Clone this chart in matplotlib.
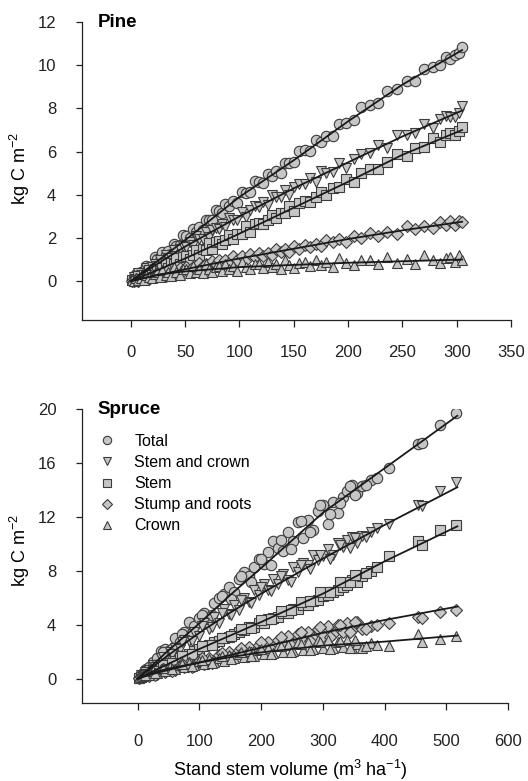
import matplotlib
matplotlib.use("Agg")
import matplotlib.pyplot as plt

plt.rcParams['font.family'] = ['Liberation Sans', 'DejaVu Sans']
plt.rcParams['mathtext.fontset'] = 'custom'
plt.rcParams['mathtext.rm'] = 'Liberation Sans'
plt.rcParams['mathtext.it'] = 'Liberation Sans:italic'
plt.rcParams['mathtext.bf'] = 'Liberation Sans:bold'

components = ["Total", "Stem and crown", "Stem", "Stump and roots", "Crown"]
markers = ["o", "v", "s", "D", "^"]

# --- Pine: stand stem volume (m3/ha) and carbon per component (kg C/m2)
pine_vol = [1, 3, 5, 7, 9, 12, 14, 17, 19, 22, 24, 27, 29, 32, 34, 37, 40, 42, 45, 48,
            51, 54, 57, 60, 63, 66, 69, 72, 75, 78, 81, 84, 87, 90, 94, 98, 102, 106, 110,
            114, 118, 122, 126, 130, 134, 138, 142, 146, 150, 155, 160, 165, 170, 175, 180,
            186, 192, 198, 205, 212, 220, 228, 236, 245, 254, 262, 270, 278, 285, 290, 294,
            298, 302, 305]
pine_total = [0.1, 0.05, 0.35, 0.25, 0.4, 0.3, 0.7, 0.66, 0.64, 1.1, 1.04, 0.93, 1.33, 1.2,
              1.38, 1.24, 1.71, 1.64, 1.66, 2.12, 2.09, 1.99, 2.42, 2.29, 2.51, 2.37, 2.84,
              2.81, 2.83, 3.29, 3.26, 3.16, 3.59, 3.46, 3.72, 3.62, 4.12, 4.1, 4.14, 4.63,
              4.61, 4.53, 4.98, 4.87, 5.11, 4.99, 5.48, 5.46, 5.5, 6.03, 6.06, 6.02, 6.52,
              6.45, 6.73, 6.7, 7.26, 7.33, 7.47, 8.06, 8.18, 8.23, 8.82, 8.88, 9.27, 9.25,
              9.83, 9.91, 10.02, 10.4, 10.3, 10.45, 10.55, 10.85]
pine_stem_crown = [0.02, 0.18, 0.05, 0.38, 0.3, 0.3, 0.6, 0.4, 0.66, 0.8, 0.72, 0.96, 0.78,
                   1.22, 1.09, 1.08, 1.43, 1.14, 1.49, 1.64, 1.58, 1.81, 1.65, 2.08, 1.96,
                   1.95, 2.28, 2.02, 2.35, 2.48, 2.42, 2.65, 2.49, 2.92, 2.83, 2.84, 3.2,
                   2.96, 3.31, 3.46, 3.42, 3.67, 3.53, 3.98, 3.88, 3.89, 4.24, 4.0, 4.35,
                   4.52, 4.49, 4.76, 4.58, 5.1, 5.02, 5.06, 5.46, 5.25, 5.67, 5.89, 5.93,
                   6.32, 6.16, 6.78, 6.79, 6.86, 7.29, 7.11, 7.51, 7.67, 7.61, 7.6, 7.8, 8.1]
pine_stem = [0.04, 0.02, 0.11, 0.22, 0.12, 0.3, 0.25, 0.5, 0.3, 0.56, 0.58, 0.47, 0.61, 0.82,
             0.59, 0.83, 0.79, 1.08, 0.8, 1.11, 1.15, 1.04, 1.21, 1.43, 1.23, 1.47, 1.44,
             1.76, 1.48, 1.79, 1.84, 1.73, 1.9, 2.12, 1.94, 2.2, 2.2, 2.54, 2.29, 2.64, 2.71,
             2.63, 2.82, 3.07, 2.9, 3.16, 3.16, 3.5, 3.25, 3.62, 3.72, 3.66, 3.88, 4.15, 4.0,
             4.31, 4.36, 4.75, 4.57, 5.0, 5.18, 5.2, 5.5, 5.87, 5.81, 6.15, 6.22, 6.64, 6.43,
             6.79, 6.85, 6.75, 6.94, 7.15]
pine_stump = [0.02, 0.0, 0.08, 0.02, 0.16, 0.1, 0.2, 0.12, 0.3, 0.2, 0.36, 0.22, 0.36, 0.25,
              0.52, 0.38, 0.51, 0.36, 0.62, 0.48, 0.66, 0.51, 0.66, 0.53, 0.83, 0.68, 0.81,
              0.67, 0.92, 0.78, 0.96, 0.81, 0.96, 0.83, 1.14, 1.0, 1.14, 1.0, 1.26, 1.13,
              1.31, 1.17, 1.32, 1.2, 1.51, 1.36, 1.5, 1.36, 1.62, 1.5, 1.69, 1.56, 1.72, 1.61,
              1.92, 1.79, 1.95, 1.83, 2.11, 2.0, 2.21, 2.09, 2.28, 2.19, 2.53, 2.41, 2.57,
              2.45, 2.73, 2.59, 2.77, 2.62, 2.77, 2.75]
pine_crown = [0.05, 0.0, 0.14, 0.06, 0.16, 0.06, 0.3, 0.2, 0.15, 0.33, 0.41, 0.21, 0.52, 0.29,
              0.43, 0.22, 0.64, 0.4, 0.3, 0.54, 0.57, 0.37, 0.68, 0.44, 0.58, 0.36, 0.78,
              0.54, 0.43, 0.66, 0.69, 0.49, 0.8, 0.56, 0.71, 0.49, 0.9, 0.66, 0.55, 0.78,
              0.81, 0.59, 0.9, 0.66, 0.8, 0.58, 0.98, 0.74, 0.63, 0.86, 0.89, 0.68, 0.99,
              0.75, 0.89, 0.67, 1.08, 0.85, 0.74, 0.97, 1.0, 0.79, 1.1, 0.86, 1.01, 0.79, 1.2,
              0.96, 0.85, 1.08, 1.11, 0.89, 1.2, 1.0]

# fitted curves
pine_fit_vol = [0, 25, 50, 100, 150, 200, 250, 305]
pine_fit = [
    [0, 0.95, 1.9, 3.9, 5.6, 7.4, 9.1, 10.7],
    [0, 0.82, 1.6, 3.0, 4.3, 5.5, 6.7, 7.9],
    [0, 0.52, 1.05, 2.2, 3.4, 4.6, 5.85, 7.0],
    [0, 0.28, 0.55, 1.05, 1.5, 1.95, 2.35, 2.75],
    [0, 0.3, 0.45, 0.65, 0.75, 0.85, 0.92, 1.0],
]

# --- Spruce
spruce_vol = [2, 5, 9, 14, 19, 25, 31, 38, 45, 52, 60, 68, 76, 84, 92, 100, 108, 116, 124,
              132, 140, 148, 156, 164, 172, 180, 188, 196, 204, 212, 220, 228, 236, 244,
              252, 260, 268, 276, 284, 292, 300, 308, 316, 324, 332, 340, 348, 356, 364,
              378, 388, 408, 455, 460, 490, 515,
              12, 28, 42, 56, 72, 88, 104, 120, 136, 152, 168, 184, 200, 216, 232, 248,
              264, 280, 296, 312, 328, 344, 352, 370]
spruce_total = [0.05, 0.3, 0.45, 0.75, 0.9, 1.25, 1.5, 2.05, 2.2, 2.1, 3.0, 2.7, 3.5, 4.2,
                3.9, 4.5, 4.9, 4.6, 5.6, 6.0, 6.3, 6.8, 6.4, 7.4, 7.9, 7.6, 8.3, 8.9, 8.5,
                9.4, 10.2, 9.7, 9.5, 10.9, 10.2, 11.6, 10.4, 11.8, 11.0, 12.4, 12.9, 11.5,
                13.1, 12.3, 13.5, 13.9, 14.4, 13.8, 14.3, 14.7, 14.9, 15.6, 17.4, 17.5,
                18.8, 19.7,
                0.6, 1.0, 1.95, 2.2, 3.3, 3.4, 4.7, 4.7, 6.1, 5.9, 7.6, 7.2, 8.9, 8.4,
                10.3, 9.6, 11.7, 10.9, 12.9, 12.2, 13.0, 14.3, 13.6, 14.4]
spruce_stem_crown = [0.05, 0.25, 0.3, 0.6, 0.62, 1.0, 1.0, 1.5, 1.5, 2.0, 2.3, 2.2, 2.9, 2.8,
                     3.5, 3.2, 4.1, 3.7, 4.6, 4.1, 5.2, 4.8, 5.5, 5.1, 6.0, 5.7, 6.6, 6.2,
                     7.0, 6.6, 7.4, 7.0, 7.8, 7.3, 8.3, 7.9, 8.6, 8.4, 9.2, 8.8, 9.1, 9.6,
                     9.2, 10.1, 9.8, 10.3, 10.5, 10.1, 10.6, 10.9, 11.2, 11.5, 12.9, 12.8,
                     13.9, 14.6,
                     0.5, 0.85, 1.6, 1.8, 2.7, 2.8, 3.9, 3.8, 4.9, 4.7, 5.8, 5.6, 6.8, 6.5,
                     7.6, 7.2, 8.4, 8.1, 9.2, 8.9, 9.9, 9.7, 10.4, 10.5]
spruce_stem = [0.03, 0.12, 0.18, 0.35, 0.38, 0.6, 0.65, 0.9, 0.95, 1.2, 1.3, 1.5, 1.7, 1.85,
               2.05, 2.2, 2.45, 2.5, 2.75, 2.8, 3.05, 3.1, 3.3, 3.5, 3.6, 3.8, 3.85, 4.1,
               4.15, 4.4, 4.5, 4.6, 4.85, 4.9, 5.15, 5.2, 5.45, 5.5, 5.75, 5.8, 6.1, 6.2,
               6.45, 6.55, 6.8, 6.95, 7.3, 7.2, 7.6, 8.0, 8.3, 9.1, 10.2, 9.9, 11.0, 11.4,
               0.3, 0.55, 1.0, 1.15, 1.7, 1.85, 2.4, 2.5, 3.05, 3.15, 3.7, 3.75, 4.35, 4.4,
               5.0, 5.1, 5.7, 5.75, 6.4, 6.45, 7.15, 7.2, 7.7, 7.85]
spruce_stump = [0.02, 0.12, 0.1, 0.3, 0.22, 0.45, 0.35, 0.6, 0.5, 0.8, 0.65, 0.95, 0.85,
                1.15, 0.95, 1.35, 1.1, 1.5, 1.3, 1.75, 1.5, 1.95, 1.7, 2.15, 1.85, 2.35,
                2.0, 2.5, 2.2, 2.75, 2.35, 2.9, 2.5, 3.15, 2.6, 3.3, 2.8, 3.5, 3.0, 3.7,
                3.2, 3.9, 3.3, 3.95, 3.5, 4.1, 3.6, 4.2, 3.7, 3.9, 4.0, 4.1, 4.6, 4.5,
                4.95, 5.1,
                0.25, 0.3, 0.7, 0.6, 1.1, 0.9, 1.5, 1.2, 1.9, 1.55, 2.3, 1.9, 2.7, 2.2,
                3.1, 2.5, 3.5, 2.8, 3.8, 3.1, 4.0, 3.5, 4.2, 3.7]
spruce_crown = [0.05, 0.15, 0.2, 0.35, 0.3, 0.55, 0.45, 0.7, 0.6, 0.85, 0.75, 1.0, 0.9,
                1.15, 1.0, 1.3, 1.1, 1.45, 1.25, 1.55, 1.35, 1.75, 1.5, 1.85, 1.6, 2.05,
                1.7, 2.15, 1.8, 2.3, 1.9, 2.45, 1.95, 2.5, 2.05, 2.7, 2.1, 2.75, 2.2, 2.85,
                2.25, 2.9, 2.3, 2.75, 2.35, 2.85, 2.3, 2.6, 2.25, 2.65, 2.5, 2.45, 3.3,
                2.75, 2.95, 3.15,
                0.3, 0.4, 0.8, 0.7, 1.1, 0.95, 1.4, 1.2, 1.7, 1.45, 1.95, 1.65, 2.2, 1.8,
                2.4, 1.95, 2.6, 2.1, 2.75, 2.2, 2.8, 2.3, 2.9, 2.4]

spruce_fit_vol = [0, 25, 50, 100, 150, 200, 300, 400, 518]
spruce_fit = [
    [0, 1.05, 2.1, 4.1, 6.2, 8.2, 12.3, 15.6, 19.5],
    [0, 0.9, 1.75, 3.4, 4.9, 6.3, 8.9, 11.4, 14.2],
    [0, 0.55, 1.1, 2.2, 3.2, 4.2, 6.3, 8.7, 11.3],
    [0, 0.35, 0.65, 1.2, 1.75, 2.3, 3.4, 4.35, 5.35],
    [0, 0.45, 0.75, 1.2, 1.6, 1.95, 2.45, 2.75, 3.2],
]

TICK_FS = 12
LABEL_FS = 13
LEG_FS = 11.5
FACE = "#c6c6c6"
EDGE = "#3c3c3c"
MS = {"o": 7.5, "v": 7.5, "s": 6.5, "D": 6.5, "^": 7.5}


def draw_panel(ax, vol, series, fit_vol, fits, name):
    for vals, mk, lab in zip(series, markers, components):
        ax.plot(vol, vals, ls="none", marker=mk, ms=MS[mk],
                mfc=FACE, mec=EDGE, mew=0.8, label=lab, zorder=2)
    for f in fits:
        ax.plot(fit_vol, f, color="#1a1a1a", lw=1.3, zorder=3)
    for s in ["top", "right"]:
        ax.spines[s].set_visible(False)
    for s in ["left", "bottom"]:
        ax.spines[s].set_linewidth(0.9)
        ax.spines[s].set_color("#222222")
    ax.tick_params(axis="both", labelsize=TICK_FS, colors="#222222", width=0.9)
    ax.tick_params(axis="y", length=4.5, pad=14)
    ax.tick_params(axis="x", length=5, pad=13)
    ax.set_ylabel("kg C m$^{-2}$", fontsize=LABEL_FS)
    ax.text(0.037, 1.0, name, transform=ax.transAxes, fontsize=13.5,
            fontweight="bold", va="center", ha="left")


fig = plt.figure(figsize=(5.28, 7.81), dpi=100)

ax1 = fig.add_axes([0.1553, 0.5903, 0.8125, 0.3815])
draw_panel(ax1, pine_vol, [pine_total, pine_stem_crown, pine_stem, pine_stump, pine_crown],
           pine_fit_vol, pine_fit, "Pine")
ax1.set_xlim(-45, 350)
ax1.set_ylim(-1.8, 12)
ax1.set_xticks(range(0, 351, 50))
ax1.set_yticks(range(0, 13, 2))
ax1.yaxis.set_label_coords(-0.116, 0.51)

ax2 = fig.add_axes([0.1553, 0.0999, 0.8068, 0.3764])
draw_panel(ax2, spruce_vol, [spruce_total, spruce_stem_crown, spruce_stem, spruce_stump, spruce_crown],
           spruce_fit_vol, spruce_fit, "Spruce")
ax2.set_xlim(-90, 600)
ax2.set_ylim(-1.8, 20)
ax2.set_xticks(range(0, 601, 100))
ax2.set_yticks(range(0, 21, 4))
ax2.tick_params(axis="x", pad=17)
ax2.yaxis.set_label_coords(-0.117, 0.52)
ax2.set_xlabel("Stand stem volume (m$^{3}$ ha$^{-1}$)", fontsize=LABEL_FS)
ax2.xaxis.set_label_coords(0.49, -0.187)

leg = ax2.legend(loc="upper left", bbox_to_anchor=(0.04, 0.915), frameon=False,
                 fontsize=LEG_FS, markerscale=0.8, handlelength=1.0, handletextpad=1.2,
                 labelspacing=0.38, borderpad=0, borderaxespad=0)

fig.savefig("out.png", dpi=100)
